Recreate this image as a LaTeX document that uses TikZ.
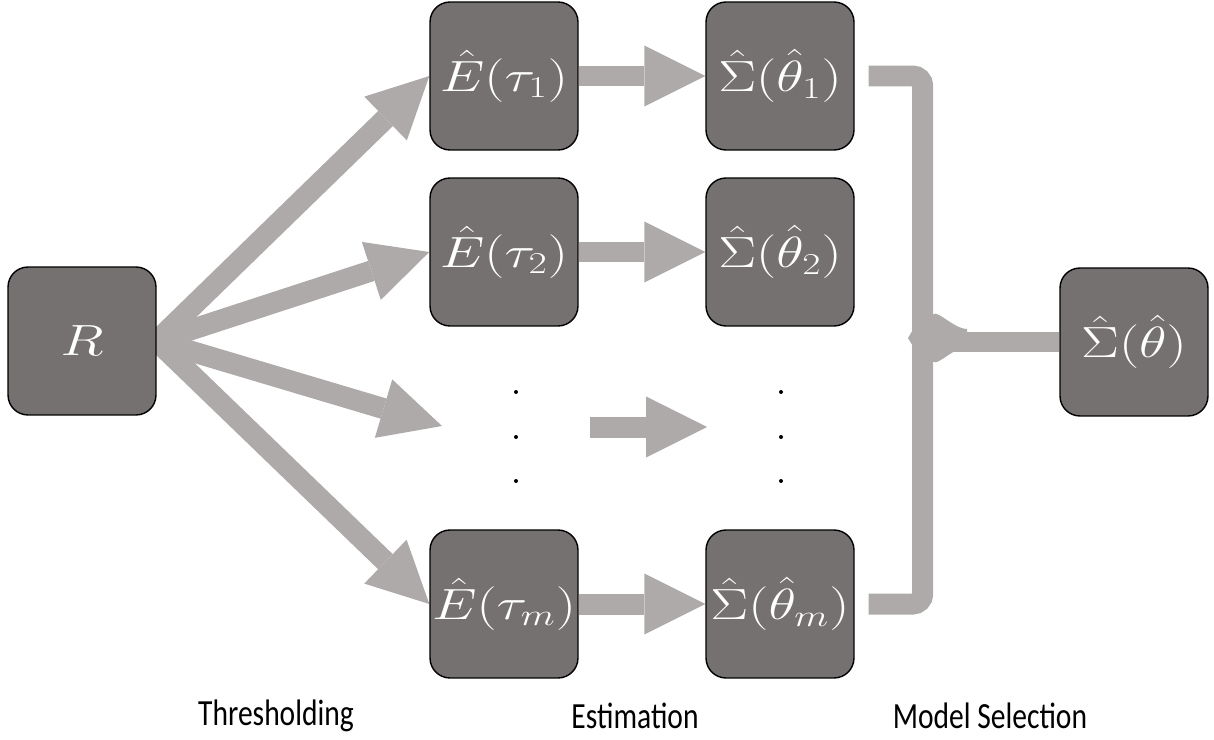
\documentclass[tikz,border=0pt]{standalone}
\usepackage[no-math]{fontspec}
\setmainfont{Carlito}
\newfontfamily\capfont[FakeStretch=0.8]{Carlito}
\usetikzlibrary{positioning,arrows.meta,calc}
\definecolor{boxgray}{HTML}{757171}
\definecolor{flowgray}{HTML}{AEAAAA}
\pgfdeclarelayer{back}
\pgfsetlayers{back,main}
\newcommand{\mlabel}[1]{\scalebox{1.3}[1]{$#1$}}

\begin{document}
\begin{tikzpicture}[x=0.02cm, y=-0.02cm,
    stage/.style={draw=black, line width=0.8pt, fill=boxgray, rounded corners=0.4cm,
        minimum width=2.96cm, minimum height=2.96cm, inner sep=0pt, text=white,
        font=\fontsize{27}{32}\selectfont},
    flow/.style={draw=flowgray, line width=0.42cm,
        -{Triangle[length=1.22cm, width=1.22cm, line width=0pt]}},
    bracket/.style={draw=flowgray, line width=0.42cm, rounded corners=0.2cm},
    caption/.style={font=\capfont\fontsize{21}{24}\selectfont}]
    \useasboundingbox (0,0) rectangle (1214,740);

    % Input
    \node[stage] (R) at (82,341) {\mlabel{R}};

    % Thresholded estimates
    \node[stage] (E1) at (504,76) {\mlabel{\hat{E}(\tau_1)}};
    \node[stage] (E2) at (504,252) {\mlabel{\hat{E}(\tau_2)}};
    \node[stage] (Em) at (504,604) {\mlabel{\hat{E}(\tau_m)}};

    % Covariance estimates
    \node[stage] (S1) at (780,76) {\mlabel{\hat{\Sigma}(\hat{\theta}_1)}};
    \node[stage] (S2) at (780,252) {\mlabel{\hat{\Sigma}(\hat{\theta}_2)}};
    \node[stage] (Sm) at (780,604) {\mlabel{\hat{\Sigma}(\hat{\theta}_m)}};

    % Selected model
    \node[stage] (S) at (1134,342) {\mlabel{\hat{\Sigma}(\hat{\theta})}};

    % Vertical dots
    \foreach \y in {392,437,481} {
        \fill (516,\y) circle[radius=0.04cm];
        \fill (781,\y) circle[radius=0.04cm];
    }
    \coordinate (dotsin) at (442,426);
    \coordinate (dotsout) at (590,427);
    \coordinate (dotsend) at (707,427);

    % Stage names
    \node[caption] (thr) at (276,716) {Thresholding};
    \node[caption] (est) at (635,716) {Estimation};
    \node[caption] (sel) at (990,716) {Model Selection};

    \begin{pgfonlayer}{back}
        % Fan out
        \foreach \t in {E1,E2,Em}
            \draw[flow] (R.east) -- (\t.west);
        \draw[flow] (R.east) -- (dotsin);
        % Estimation
        \draw[flow] (E1.east) -- (S1.west);
        \draw[flow] (E2.east) -- (S2.west);
        \draw[flow] (Em.east) -- (Sm.west);
        \draw[flow] (dotsout) -- (dotsend);
        % Bracket
        \draw[bracket] ($(S1.east)+(14,0)$) -| ($(Sm.east)+(68,0)$) -- ($(Sm.east)+(14,0)$);
        \draw[bracket] (S.west) -- ++(-137,0);
        \fill[flowgray] (932,318) to[out=90,in=180] (967,329) -- (967,347)
            to[out=180,in=-90] (932,358) -- cycle;
        \fill[flowgray] (914,328) -- (908,338) -- (914,348) -- cycle;
    \end{pgfonlayer}
\end{tikzpicture}
\end{document}
